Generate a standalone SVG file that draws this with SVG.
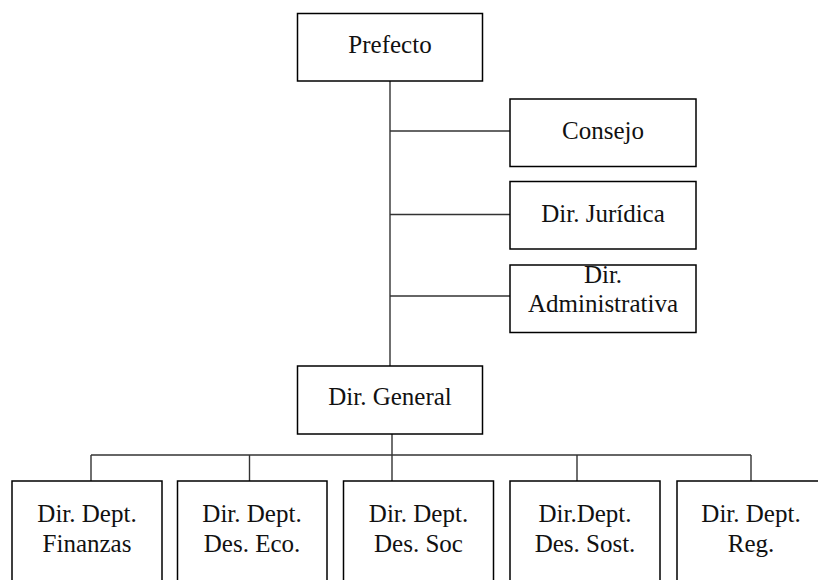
<svg xmlns="http://www.w3.org/2000/svg" width="818" height="580" viewBox="0 0 818 580">
<style>
.box{fill:#fff;stroke:#000;stroke-width:1.5}
.t{font-family:"Liberation Serif","Times New Roman",serif;font-size:25px;fill:#111;text-anchor:middle}
.c line{stroke:#333;stroke-width:1.4}
</style>
<g class="c" id="connectors">
<line x1="390" y1="81" x2="390" y2="366"/>
<line x1="390" y1="131" x2="510" y2="131"/>
<line x1="390" y1="214.5" x2="510" y2="214.5"/>
<line x1="390" y1="296" x2="510" y2="296"/>
<line x1="392" y1="434" x2="392" y2="455"/>
<line x1="91" y1="455" x2="751" y2="455"/>
<line x1="91" y1="455" x2="91" y2="481"/>
<line x1="249.5" y1="455" x2="249.5" y2="481"/>
<line x1="392" y1="455" x2="392" y2="481"/>
<line x1="577" y1="455" x2="577" y2="481"/>
<line x1="751" y1="455" x2="751" y2="481"/>
</g>
<g id="prefecto"><rect class="box" x="297.5" y="13.5" width="185" height="67.5"/><text class="t" x="390" y="53">Prefecto</text></g>
<g id="consejo"><rect class="box" x="510" y="99" width="186" height="67.5"/><text class="t" x="603" y="139">Consejo</text></g>
<g id="juridica"><rect class="box" x="510" y="181.5" width="186" height="67.5"/><text class="t" x="603" y="221.5">Dir. Jurídica</text></g>
<g id="administrativa"><rect class="box" x="510" y="265" width="186" height="67.5"/><text class="t" x="603" y="282.5">Dir.</text><text class="t" x="603" y="311.5">Administrativa</text></g>
<g id="general"><rect class="box" x="297.5" y="366" width="185" height="68"/><text class="t" x="390" y="405">Dir. General</text></g>
<g id="finanzas"><rect class="box" x="12" y="481" width="150" height="110"/><text class="t" x="87" y="521.5">Dir. Dept.</text><text class="t" x="87" y="551.5">Finanzas</text></g>
<g id="deseco"><rect class="box" x="177.5" y="481" width="149.5" height="110"/><text class="t" x="252" y="521.5">Dir. Dept.</text><text class="t" x="252" y="551.5">Des. Eco.</text></g>
<g id="dessoc"><rect class="box" x="343.5" y="481" width="150" height="110"/><text class="t" x="418.5" y="521.5">Dir. Dept.</text><text class="t" x="418.5" y="551.5">Des. Soc</text></g>
<g id="dessost"><rect class="box" x="510" y="481" width="150" height="110"/><text class="t" x="585" y="521.5">Dir.Dept.</text><text class="t" x="585" y="551.5">Des. Sost.</text></g>
<g id="reg"><rect class="box" x="677" y="481" width="150" height="110"/><text class="t" x="751" y="521.5">Dir. Dept.</text><text class="t" x="751" y="551.5">Reg.</text></g>
</svg>
